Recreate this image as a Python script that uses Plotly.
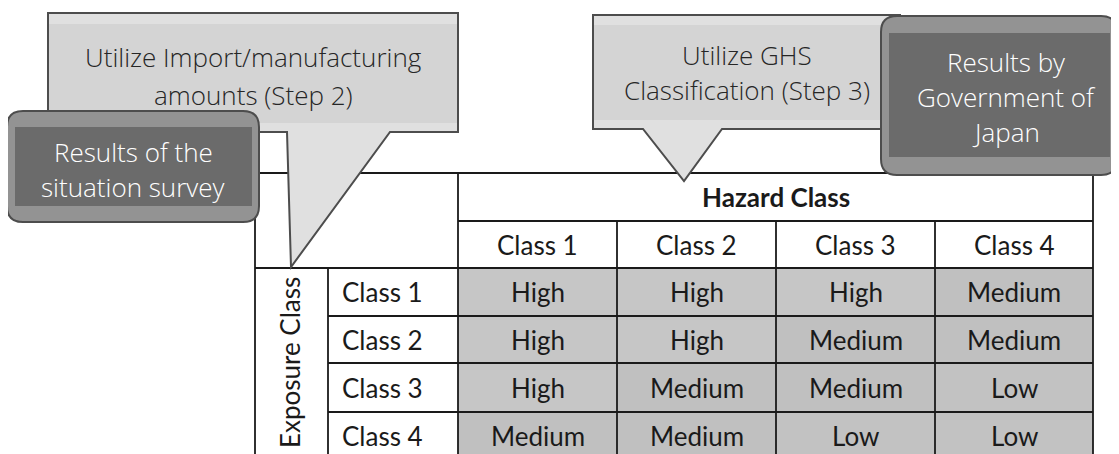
import plotly.graph_objects as go

# ---- data ----
hazard_classes = ["Class 1", "Class 2", "Class 3", "Class 4"]
exposure_classes = ["Class 1", "Class 2", "Class 3", "Class 4"]
risk = [
    ["High", "High", "High", "Medium"],
    ["High", "High", "Medium", "Medium"],
    ["High", "Medium", "Medium", "Low"],
    ["Medium", "Medium", "Low", "Low"],
]
risk_levels = ["Low", "Medium", "High"]
hazard_title = "Hazard Class"
exposure_title = "Exposure Class"
callout_step2 = ["Utilize Import/manufacturing", "amounts (Step 2)"]
callout_step3 = ["Utilize GHS", "Classification (Step 3)"]
box_survey = ["Results of the", "situation survey"]
box_japan = ["Results by", "Government of", "Japan"]

# ---- layout geometry (pixel space) ----
W, H = 1119, 454
OFF = 8  # page body margin compensation
col_edges = [458, 617, 776, 935, 1093]
row_edges = [268, 316, 363, 412, 460]
tbl_left, col_exp_right = 255, 328
tbl_top, hdr_mid = 173, 221

TXT = "#1a1a1a"
FONT_T = "Lato"
FONT_C = "Open Sans"
TS = 26

fig = go.Figure()

zval = {"Low": 0, "Medium": 1, "High": 2}
z = [[zval[v] for v in row] for row in risk]
fig.add_trace(go.Heatmap(
    x=col_edges, y=row_edges, z=z, zmin=0, zmax=2,
    colorscale=[[0, "#c2c2c2"], [0.5, "#c0c0c0"], [1, "#c6c6c6"]],
    showscale=False, hoverinfo="skip",
))

shapes = []
LC = "#1a1a1a"
LW = 1.8

def line(x0, y0, x1, y1, color=LC, w=LW):
    shapes.append(dict(type="line", x0=x0, y0=y0, x1=x1, y1=y1,
                       xref="x", yref="y", line=dict(color=color, width=w), layer="above"))

# table grid
line(tbl_left, tbl_top, col_edges[-1], tbl_top)
line(col_edges[0], hdr_mid, col_edges[-1], hdr_mid)
for ry in row_edges[:-1]:
    x0 = tbl_left if ry == row_edges[0] else col_exp_right
    line(x0, ry, col_edges[-1], ry)
line(tbl_left, tbl_top, tbl_left, H + OFF)
line(col_exp_right, row_edges[0], col_exp_right, H + OFF)
line(col_edges[0], tbl_top, col_edges[0], H + OFF)
for cx in col_edges[1:-1]:
    line(cx, hdr_mid, cx, H + OFF)
line(col_edges[-1], tbl_top, col_edges[-1], H + OFF)

def path(d, fill, lc="#4d4d4d", w=2):
    shapes.append(dict(type="path", path=d, xref="x", yref="y",
                       fillcolor=fill, line=dict(color=lc, width=w), layer="above"))

def rect(x0, y0, x1, y1, fill):
    shapes.append(dict(type="rect", x0=x0, y0=y0, x1=x1, y1=y1, xref="x", yref="y",
                       fillcolor=fill, line=dict(width=0), layer="above"))

def rrect(x0, y0, x1, y1, r):
    return (f"M{x0+r},{y0} L{x1-r},{y0} Q{x1},{y0} {x1},{y0+r} L{x1},{y1-r} "
            f"Q{x1},{y1} {x1-r},{y1} L{x0+r},{y1} Q{x0},{y1} {x0},{y1-r} "
            f"L{x0},{y0+r} Q{x0},{y0} {x0+r},{y0} Z")

LIGHT, MID = "#e0e0e0", "#d4d4d4"
# callout step 2
path("M48,13 L458,13 L458,132 L390,132 L291,267 L287,132 L48,132 Z", LIGHT)
rect(49, 24, 457, 123, MID)
# callout step 3
path("M593,15 L900,15 L900,129 L722,129 L684,181 L643,129 L593,129 Z", LIGHT)
rect(594, 25, 899, 120, MID)
# survey box
path(rrect(7, 111, 259, 222, 16), "#939393")
rect(15, 127, 252, 206, "#6b6b6b")
# japan box
path(rrect(881, 16, 1117, 175, 16), "#939393")
rect(889, 33, 1110, 157, "#6b6b6b")

ann = []

def text(x, y, s, size, color=TXT, family=FONT_T, weight=None, xanchor="center", angle=0):
    f = dict(family=family, size=size, color=color)
    if weight is not None:
        f["weight"] = weight
    ann.append(dict(x=x, y=y, xref="x", yref="y", text=s, showarrow=False,
                    font=f, xanchor=xanchor, yanchor="middle", textangle=angle))

# table text
text((col_edges[0] + col_edges[-1]) / 2, 197, f"<b>{hazard_title}</b>", TS)
for j, hc in enumerate(hazard_classes):
    text((col_edges[j] + col_edges[j + 1]) / 2, (hdr_mid + row_edges[0]) / 2, hc, TS)
for i, ec in enumerate(exposure_classes):
    yc = (row_edges[i] + row_edges[i + 1]) / 2
    text(340, yc, ec, TS, xanchor="left")
    for j in range(len(hazard_classes)):
        text((col_edges[j] + col_edges[j + 1]) / 2, yc, risk[i][j], TS)
text(290, 363, exposure_title, 26, angle=-90)

# callout text (one annotation per line)
CS = 26
def lines(x, ys, strs, color):
    for y, s in zip(ys, strs):
        text(x, y, s, CS, color=color, family=FONT_C, weight=300)

lines(253, [57, 95], callout_step2, "#262626")
lines(747, [55, 90], callout_step3, "#262626")
lines(133, [152, 187], box_survey, "#ffffff")
lines(1006, [62, 97, 132], box_japan, "#ffffff")

fig.update_layout(
    width=W, height=H,
    margin=dict(l=0, r=0, t=0, b=0),
    paper_bgcolor="white", plot_bgcolor="white",
    xaxis=dict(range=[OFF, W + OFF], visible=False, fixedrange=True),
    yaxis=dict(range=[H + OFF, OFF], visible=False, fixedrange=True),
    shapes=shapes, annotations=ann, showlegend=False,
)
fig.write_html("out.html")
